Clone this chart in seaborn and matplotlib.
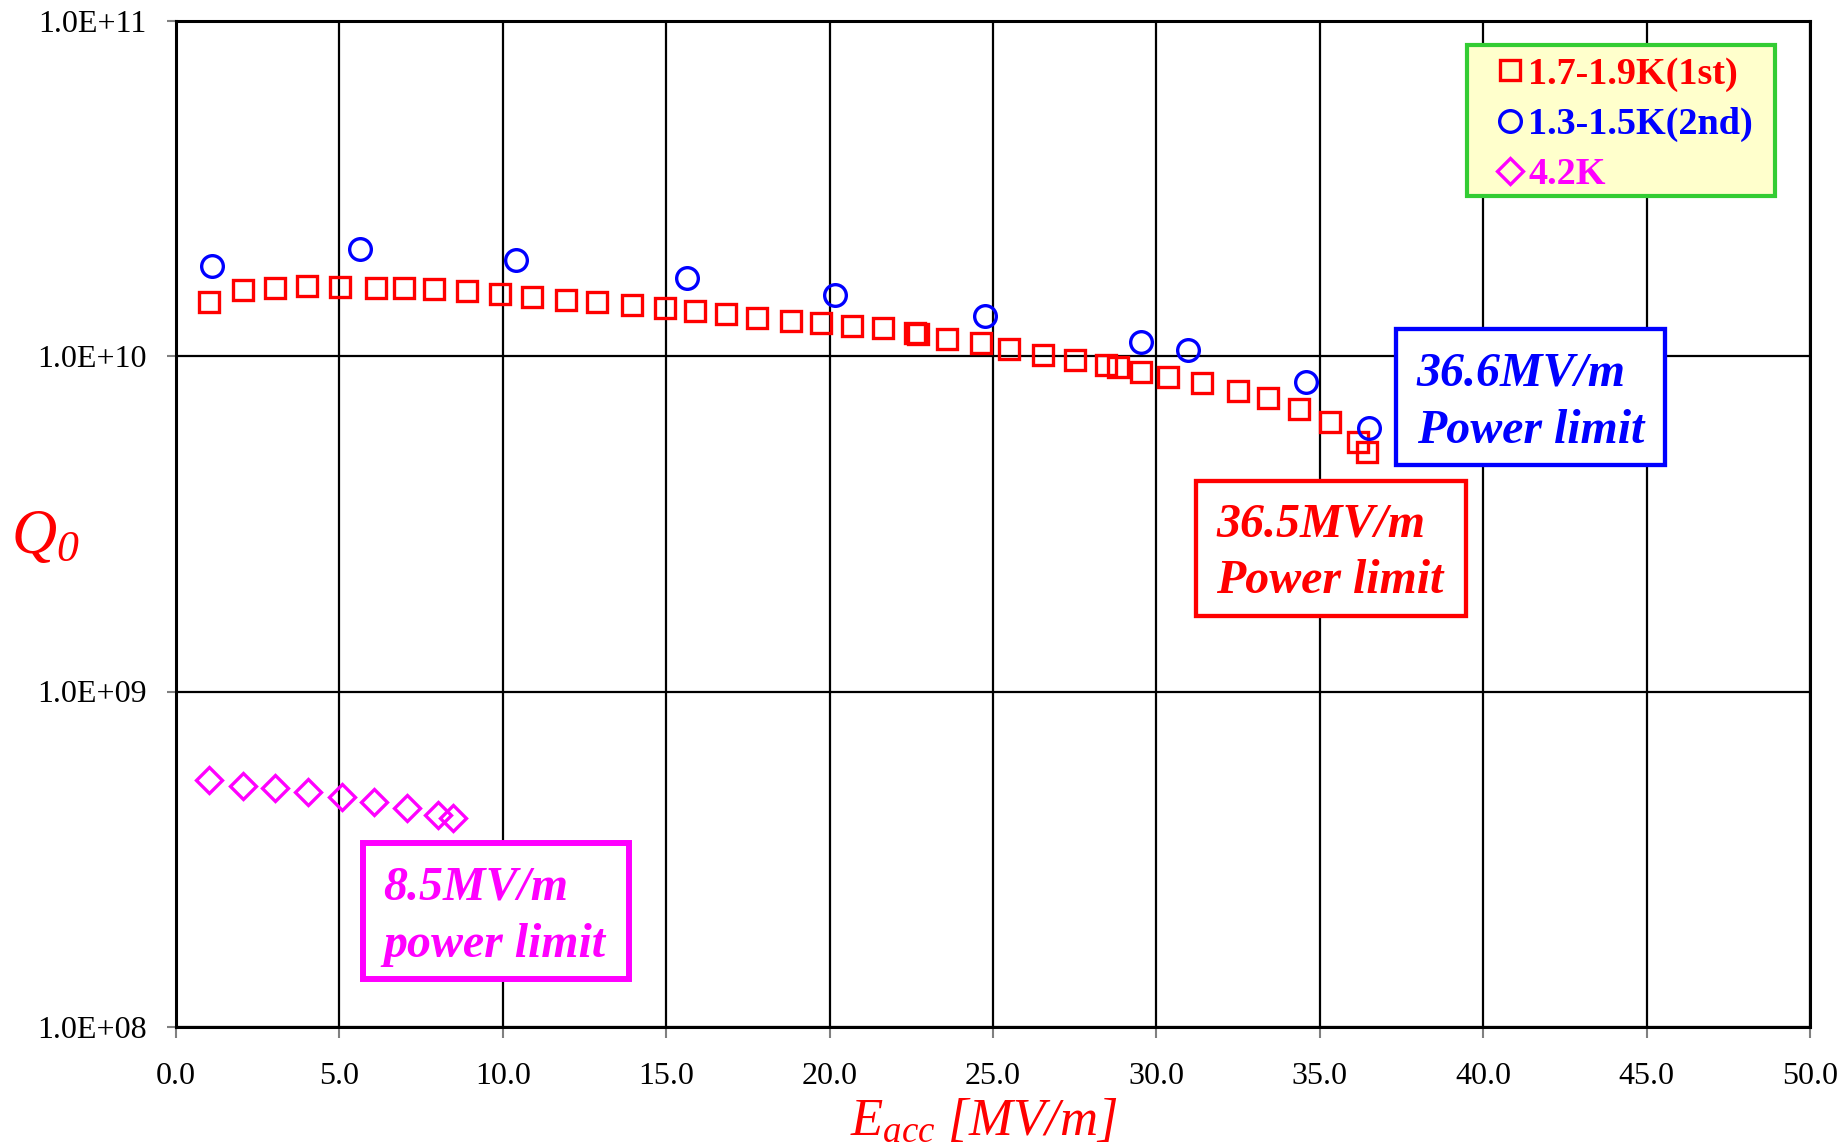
import numpy as np
import pandas as pd
import matplotlib
matplotlib.use("Agg")
import matplotlib.pyplot as plt
import seaborn as sns
from matplotlib.patches import Rectangle
from matplotlib.ticker import FixedLocator, FuncFormatter, NullLocator

# ---------------- data ----------------
eacc_1st = [1.01, 2.04, 3.03, 4.02, 5.02, 6.11, 6.98, 7.91, 8.91, 9.90, 10.89, 11.94,
            12.88, 13.95, 14.97, 15.88, 16.82, 17.77, 18.81, 19.73, 20.68, 21.62,
            22.62, 22.72, 23.59, 24.63, 25.50, 26.54, 27.51, 28.46, 28.82, 29.52,
            30.37, 31.39, 32.49, 33.43, 34.37, 35.32, 36.18, 36.44]
q0_1st = [1.45e10, 1.57e10, 1.60e10, 1.62e10, 1.61e10, 1.60e10, 1.60e10, 1.58e10,
          1.56e10, 1.53e10, 1.50e10, 1.47e10, 1.45e10, 1.42e10, 1.39e10, 1.36e10,
          1.33e10, 1.30e10, 1.27e10, 1.25e10, 1.23e10, 1.21e10, 1.17e10, 1.16e10,
          1.12e10, 1.09e10, 1.05e10, 1.01e10, 9.7e9, 9.4e9, 9.25e9, 8.96e9, 8.63e9,
          8.32e9, 7.87e9, 7.48e9, 6.95e9, 6.37e9, 5.56e9, 5.17e9]

eacc_2nd = [1.11, 5.64, 10.40, 15.63, 20.17, 24.74, 29.52, 30.98, 34.57, 36.51]
q0_2nd = [1.86e10, 2.08e10, 1.93e10, 1.71e10, 1.52e10, 1.32e10, 1.10e10, 1.04e10,
          8.35e9, 6.1e9]

eacc_42k = [1.02, 2.04, 3.03, 4.03, 5.07, 6.07, 7.06, 8.03, 8.49]
q0_42k = [5.45e8, 5.24e8, 5.14e8, 5.01e8, 4.84e8, 4.68e8, 4.49e8, 4.29e8, 4.19e8]

series_labels = ["1.7-1.9K(1st)", "1.3-1.5K(2nd)", "4.2K"]
series_colors = ["#FF0000", "#0000FF", "#FF00FF"]
series_markers = ["s", "o", "D"]

x_ticks = [0, 5, 10, 15, 20, 25, 30, 35, 40, 45, 50]
y_ticks = [1e8, 1e9, 1e10, 1e11]

limit_texts = [("36.5MV/m", "Power limit"), ("36.6MV/m", "Power limit"),
               ("8.5MV/m", "power limit")]

# ---------------- figure ----------------
sns.set_theme(style="white")
plt.rcParams["font.family"] = ["Liberation Serif", "DejaVu Serif"]
plt.rcParams["mathtext.fontset"] = "custom"
plt.rcParams["mathtext.it"] = "Liberation Serif:italic"
plt.rcParams["mathtext.rm"] = "Liberation Serif:italic"
plt.rcParams["mathtext.bf"] = "Liberation Serif:bold:italic"
plt.rcParams.update({
    "xtick.bottom": True, "ytick.left": True,
    "xtick.direction": "out", "ytick.direction": "out",
    "xtick.major.size": 8, "ytick.major.size": 6.5,
    "xtick.major.pad": 17, "ytick.major.pad": 14.5,
    "xtick.major.width": 1.5, "ytick.major.width": 1.5,
    "xtick.color": "#808080", "ytick.color": "#808080",
    "xtick.labelcolor": "black", "ytick.labelcolor": "black",
    "xtick.labelsize": 23, "ytick.labelsize": 23,
})

W, H = 1844, 1146
fig = plt.figure(figsize=(W / 100, H / 100), dpi=100)
fig.patch.set_facecolor("white")


def fx(px):
    return px / W


def fy(py):
    return 1 - py / H


ax = fig.add_axes([fx(176), fy(1027), fx(1810) - fx(176), fy(20.5) - fy(1027)])
ax.set_facecolor("white")

datasets = [(eacc_1st, q0_1st), (eacc_2nd, q0_2nd), (eacc_42k, q0_42k)]
msizes = [14.2, 15.6, 12.8]
for (xs, ys), lab, col, mk, ms in zip(datasets, series_labels, series_colors,
                                       series_markers, msizes):
    df = pd.DataFrame({"Eacc": xs, "Q0": ys})
    sns.lineplot(data=df, x="Eacc", y="Q0", ax=ax, estimator=None, sort=False,
                 linestyle="none", marker=mk, markersize=ms,
                 markerfacecolor="none", markeredgecolor=col,
                 markeredgewidth=2.4, color=col, label=lab, zorder=3)

ax.set_yscale("log")
ax.set_xlim(0, 50)
ax.set_ylim(1e8, 1e11)
ax.xaxis.set_major_locator(FixedLocator(x_ticks))
ax.xaxis.set_major_formatter(FuncFormatter(lambda v, p: f"{v:.1f}"))
ax.yaxis.set_major_locator(FixedLocator(y_ticks))
ax.yaxis.set_major_formatter(FuncFormatter(lambda v, p: f"{v:.1E}"))
ax.yaxis.set_minor_locator(NullLocator())
ax.xaxis.set_minor_locator(NullLocator())

ax.grid(True, which="major", color="black", linewidth=1.6)
ax.set_axisbelow(True)
for s in ax.spines.values():
    s.set_color("black")
    s.set_linewidth(2.2)
    s.set_visible(True)

# axis labels
ax.set_xlabel(r"$E_{acc}\ [MV/m]$", color="#FF0000", fontsize=38)
ax.xaxis.set_label_coords(fx(984), fy(1135), transform=fig.transFigure)
ax.xaxis.label.set_va("baseline")
ax.xaxis.label.set_ha("center")

ax.set_ylabel(r"$Q_{0}$", color="#FF0000", fontsize=45, rotation=0)
ax.yaxis.set_label_coords(fx(11), fy(553), transform=fig.transFigure)
ax.yaxis.label.set_va("baseline")
ax.yaxis.label.set_ha("left")

# legend with manual frame
frame = Rectangle((fx(1466.7), fy(195.7)), fx(1775) - fx(1466.7), fy(45) - fy(195.7),
                  transform=fig.transFigure, facecolor="#FFFFCC", edgecolor="#33CC33",
                  linewidth=3, zorder=4, clip_on=False)
ax.add_patch(frame)
handles, labels = ax.get_legend_handles_labels()
leg = ax.legend(handles, labels, loc="upper left",
                bbox_to_anchor=(fx(1496), fy(56.5)), bbox_transform=fig.transFigure,
                frameon=False, borderpad=0, borderaxespad=0, handlelength=0.75,
                handletextpad=0.1, labelspacing=0.40,
                prop={"family": "Liberation Serif", "weight": "bold", "size": 27.5})
leg.set_zorder(6)
for t, c in zip(leg.get_texts(), series_colors):
    t.set_color(c)

# power-limit boxes: (left, top, right, bottom) px, text left px, first baseline px
boxes = [
    ((1195.7, 480.7, 1465.7, 615.7), 1216, 536.7, "#FF0000", 3.1),
    ((1395.7, 329.3, 1665.0, 465.0), 1416.7, 386.0, "#0000FF", 3.1),
    ((362.7, 842.7, 629.3, 979.3), 383, 900.0, "#FF00FF", 4.3),
]
for (rect, tx, bl, col, lw), (line1, line2) in zip(boxes, limit_texts):
    l, t, r, b = rect
    ax.add_patch(Rectangle((fx(l), fy(b)), fx(r) - fx(l), fy(t) - fy(b),
                           transform=fig.transFigure, facecolor="white",
                           edgecolor=col, linewidth=lw, zorder=4, clip_on=False))
    for k, line in enumerate((line1, line2)):
        ax.text(fx(tx), fy(bl + 56.7 * k), line, transform=fig.transFigure,
                ha="left", va="baseline", color=col, fontsize=34.5,
                fontweight="bold", fontstyle="italic", family="Liberation Serif",
                zorder=7)

# tick styling applied last
ax.xaxis.set_tick_params(which="major", direction="out", color="#808080",
                         width=1.5, length=8, pad=17, labelsize=23,
                         labelcolor="black", bottom=True, labelbottom=True)
ax.yaxis.set_tick_params(which="major", direction="out", color="#808080",
                         width=1.5, length=6.5, pad=14.5, labelsize=23,
                         labelcolor="black", left=True, labelleft=True)

fig.savefig("out.png", dpi=100, facecolor="white")
